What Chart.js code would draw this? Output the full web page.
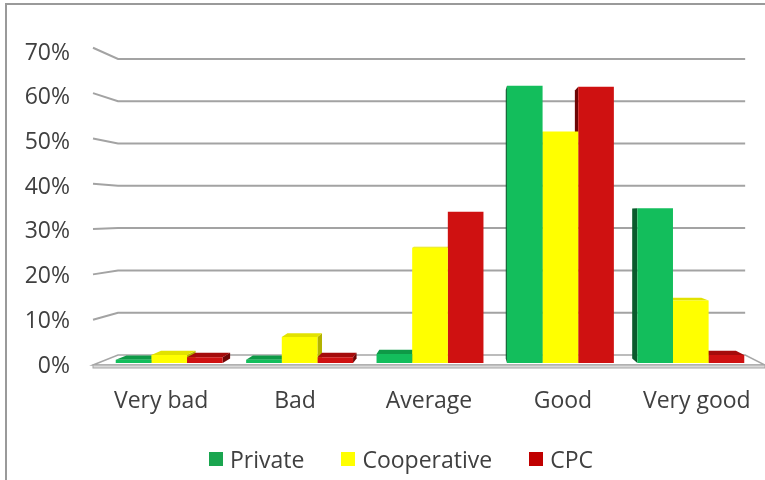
<!DOCTYPE html>
<html>
<head>
<meta charset="utf-8">
<script src="https://cdn.jsdelivr.net/npm/chart.js@4.4.1/dist/chart.umd.min.js"></script>
<style>
  html, body { margin: 0; padding: 0; background: #fff; }
  #wrap { position: relative; width: 765px; height: 480px; overflow: hidden; }
  #frame { position: absolute; left: 5px; top: 3px; right: -10px; bottom: -10px;
           border-left: 2px solid #9a9a9a; border-top: 2px solid #9a9a9a; pointer-events: none; }
  #legend { position: absolute; left: 209px; top: 443px; display: flex; align-items: center;
            font: 23px 'Open Sans', sans-serif; color: #404040; }
  .item { display: flex; align-items: center; margin-right: 37px; }
  .swatch { width: 14px; height: 14px; margin-right: 7px; }
</style>
</head>
<body>
<div id="wrap">
  <canvas id="rating-chart" width="765" height="480"></canvas>
  <div id="frame"></div>
  <div id="legend"></div>
</div>
<script>
const categories = ['Very bad', 'Bad', 'Average', 'Good', 'Very good'];
const privateShare = [0.7, 0.7, 2.0, 62.0, 34.6];
const cooperativeShare = [1.8, 5.8, 25.8, 51.8, 14.0];
const cpcShare = [1.3, 1.3, 33.8, 61.8, 1.8];
const seriesNames = ['Private', 'Cooperative', 'CPC'];
const yTicks = [0, 10, 20, 30, 40, 50, 60, 70];

// front / side / top shading per series
const faceColors = [
    { front: '#13be5c', side: '#0a5a2c', top: '#0e9a47', legend: '#1aa54f' },
    { front: '#ffff00', side: '#b3b300', top: '#e2e200', legend: '#ffff00' },
    { front: '#cf1111', side: '#6e0606', top: '#a50b0b', legend: '#c00000' }
];
const textColor = '#404040';
const font = { family: "'Open Sans', sans-serif", size: 23 };

// simple perspective: points shrink toward a vanishing point as they go back
const depth = { vx: 468, vy: 215, dist: 15, barFront: 0.2, barBack: 0.65 };
function toDepth(x, y, t) {
    const f = (1 - t / depth.dist) / (1 - depth.barFront / depth.dist);
    return { x: depth.vx + (x - depth.vx) * f, y: depth.vy + (y - depth.vy) * f };
}
function poly(ctx, pts, fill, stroke, lw) {
    ctx.beginPath();
    ctx.moveTo(pts[0].x, pts[0].y);
    for (let i = 1; i < pts.length; i++) ctx.lineTo(pts[i].x, pts[i].y);
    ctx.closePath();
    if (fill) { ctx.fillStyle = fill; ctx.fill(); }
    if (stroke) { ctx.strokeStyle = stroke; ctx.lineWidth = lw || 1; ctx.stroke(); }
}

const wallPlugin = {
    id: 'wall3d',
    beforeDatasetsDraw(chart) {
        const { ctx, chartArea, scales } = chart;
        const left = chartArea.left - 6;
        const right = chartArea.right + 5;
        ctx.save();

        // floor
        const y0 = scales.y.getPixelForValue(0);
        const fl = toDepth(left, y0, 0), bl = toDepth(left, y0, 1);
        const br = toDepth(right, y0, 1), fr = toDepth(right, y0, 0);
        poly(ctx, [fl, bl, br, fr], '#ffffff', '#a6a6a6', 1.5);
        ctx.fillStyle = '#d9d9d9';
        ctx.fillRect(fl.x, fl.y, fr.x - fl.x, 3);
        ctx.strokeStyle = '#a6a6a6';
        ctx.lineWidth = 1;
        ctx.strokeRect(fl.x, fl.y, fr.x - fl.x, 3);

        // gridlines on the side and back walls
        ctx.strokeStyle = '#a3a3a3';
        ctx.lineWidth = 2;
        yTicks.slice(1).forEach(v => {
            const y = scales.y.getPixelForValue(v);
            const a = toDepth(left, y, 0), b = toDepth(left, y, 1), c = toDepth(right, y, 1);
            ctx.beginPath();
            ctx.moveTo(a.x, a.y);
            ctx.lineTo(b.x, b.y);
            ctx.lineTo(c.x, c.y);
            ctx.stroke();
        });

        // hidden faces of the columns, front faces are drawn over them by the chart
        chart.data.datasets.forEach((ds, i) => {
            const meta = chart.getDatasetMeta(i);
            const col = faceColors[i];
            meta.data.forEach(bar => {
                const p = bar.getProps(['x', 'y', 'base', 'width'], true);
                const xl = p.x - p.width / 2, xr = p.x + p.width / 2;
                const yt = p.y, yb = p.base;
                const t = depth.barBack;
                if (xl > depth.vx) {
                    poly(ctx, [{ x: xl, y: yt }, toDepth(xl, yt, t), toDepth(xl, yb, t), { x: xl, y: yb }], col.side);
                }
                if (xr < depth.vx) {
                    poly(ctx, [{ x: xr, y: yt }, toDepth(xr, yt, t), toDepth(xr, yb, t), { x: xr, y: yb }], col.side);
                }
                if (yt > depth.vy) {
                    poly(ctx, [{ x: xl, y: yt }, { x: xr, y: yt }, toDepth(xr, yt, t), toDepth(xl, yt, t)], col.top);
                }
            });
        });
        ctx.restore();
    }
};

const seriesValues = [privateShare, cooperativeShare, cpcShare];
const ratingChart = new Chart(document.getElementById('rating-chart'), {
    type: 'bar',
    data: {
        labels: categories,
        datasets: seriesNames.map((name, i) => ({
            label: name,
            data: seriesValues[i],
            backgroundColor: faceColors[i].front,
            borderWidth: 0,
            categoryPercentage: 0.82,
            barPercentage: 1.0
        }))
    },
    options: {
        responsive: false,
        animation: false,
        layout: { padding: { left: 0, right: 9, top: 50, bottom: 65 } },
        plugins: { legend: { display: false }, tooltip: { enabled: false } },
        scales: {
            x: { display: false },
            // category names sit on the front edge of the floor, slightly wider than the bars
            xLabels: {
                type: 'linear',
                position: 'bottom',
                offset: false,
                min: -0.427,
                max: 4.442,
                grid: { display: false, drawTicks: false, offset: false },
                border: { display: false },
                afterBuildTicks: scale => { scale.ticks = categories.map((c, i) => ({ value: i })); },
                afterFit: scale => {
                    scale.height = 52;
                    scale.paddingLeft = 0;
                    scale.paddingRight = 0;
                },
                ticks: {
                    autoSkip: false,
                    maxRotation: 0,
                    padding: 25,
                    color: textColor,
                    font: font,
                    callback: v => categories[v]
                }
            },
            y: {
                min: 0,
                max: 70,
                grid: { display: false, drawTicks: false },
                border: { display: false },
                afterFit: scale => { scale.width = 104; },
                afterBuildTicks: scale => { scale.ticks = yTicks.map(v => ({ value: v })); },
                ticks: {
                    padding: 34,
                    labelOffset: 3,
                    color: textColor,
                    font: font,
                    callback: v => v + '%'
                }
            }
        }
    },
    plugins: [wallPlugin]
});

// legend row under the chart
const legendBox = document.getElementById('legend');
seriesNames.forEach((name, i) => {
    const item = document.createElement('div');
    item.className = 'item';
    const sw = document.createElement('span');
    sw.className = 'swatch';
    sw.style.background = faceColors[i].legend;
    const label = document.createElement('span');
    label.textContent = name;
    item.appendChild(sw);
    item.appendChild(label);
    legendBox.appendChild(item);
});
</script>
</body>
</html>
